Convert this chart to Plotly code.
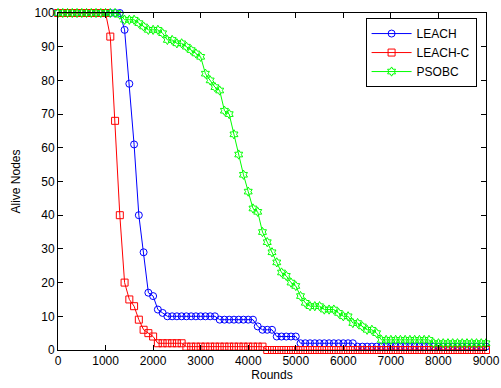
import plotly.graph_objects as go

rounds = list(range(0, 9100, 100))

leach = ([100] * 14 + [95, 79, 61, 40, 29, 17, 16, 12, 11]
         + [10] * 11 + [9] * 8 + [7] + [6] * 3 + [4] * 5 + [2] * 12 + [1] * 28)

leach_c = ([100] * 11 + [93, 68, 40, 20, 15, 13, 9, 6, 5, 4]
           + [2] * 6 + [1] * 17 + [0] * 47)

psobc = ([100] * 13
         + [99.5, 98, 98, 98, 97, 96, 95, 95, 95, 94, 92, 92, 91, 91, 90, 89, 88, 87,
            82, 80, 78, 77, 71, 70, 64, 58, 52, 47, 42, 41, 35, 32, 29]
         + [26, 23, 22, 20, 19, 16, 14, 13, 13, 13, 12, 12, 12, 11, 10, 10, 8, 8, 7,
            6, 6, 5, 3]
         + [3] * 10 + [2] * 12)

x_ticks = list(range(0, 9001, 1000))
y_ticks = list(range(0, 101, 10))

FONT = "Liberation Sans, Arial, Helvetica, sans-serif"

fig = go.Figure()
series = [
    ("LEACH", leach, "#0000ff", "circle-open"),
    ("LEACH-C", leach_c, "#ff0000", "square-open"),
    ("PSOBC", psobc, "#00ff00", "hexagram-open"),
]
for name, vals, col, sym in series:
    fig.add_trace(go.Scatter(
        x=rounds, y=vals, name=name, mode="lines+markers",
        line=dict(color=col, width=1),
        marker=dict(symbol=sym, size=7, color=col, line=dict(color=col, width=1)),
        cliponaxis=False,
    ))

axis_common = dict(
    showline=True, linecolor="black", linewidth=1, mirror="ticks",
    ticks="inside", ticklen=5, tickcolor="black", tickwidth=1,
    showgrid=False, zeroline=False, automargin=False,
    tickfont=dict(family=FONT, size=12, color="black"),
    title_font=dict(family=FONT, size=12, color="black"),
)

fig.update_xaxes(range=[0, 9000], tickvals=x_ticks, title_text="Rounds",
                 title_standoff=3, **axis_common)
fig.update_yaxes(range=[0, 100], tickvals=y_ticks, title_text="Alive Nodes",
                 title_standoff=11, **axis_common)

fig.update_layout(
    width=501, height=388,
    margin=dict(l=58, r=15, t=13, b=38),
    plot_bgcolor="white", paper_bgcolor="white",
    font=dict(family=FONT, size=12, color="black"),
    legend=dict(
        x=0.978, y=0.985, xanchor="right", yanchor="top",
        bgcolor="white", bordercolor="black", borderwidth=1,
        font=dict(family=FONT, size=12, color="black"),
        itemwidth=40, tracegroupgap=0,
    ),
)

fig.write_html("out.html", config={"displayModeBar": False},
               post_script="document.body.style.margin='0';document.body.style.overflow='hidden';")
